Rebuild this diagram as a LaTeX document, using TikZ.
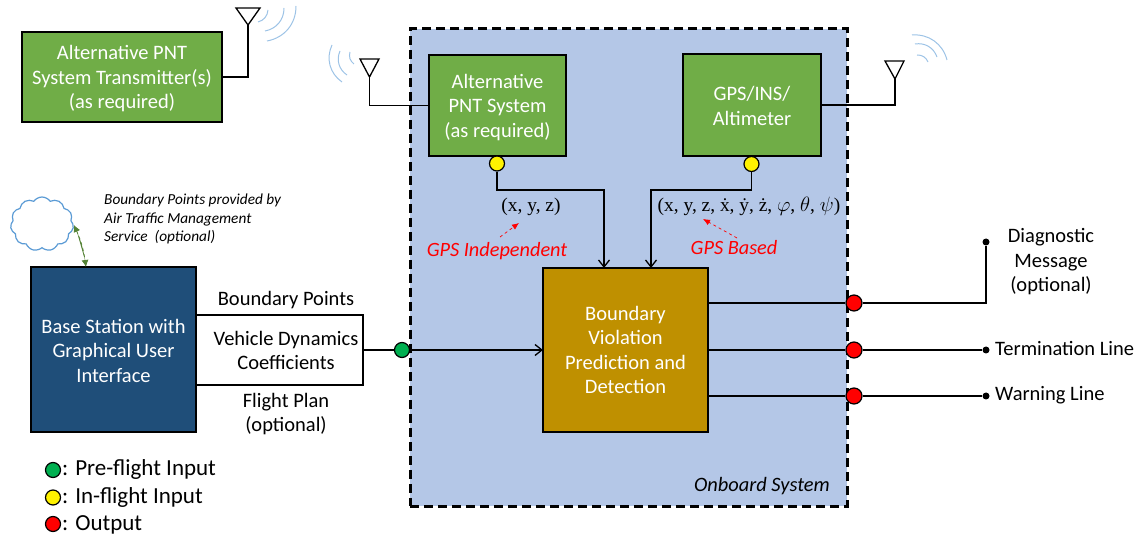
\documentclass[tikz,border=0pt]{standalone}
\usepackage{fontspec}
\setmainfont{Carlito}
\newfontfamily\formelfont{Liberation Serif}
\usetikzlibrary{positioning}
\usetikzlibrary{shapes.symbols}
\usetikzlibrary{arrows.meta}
\definecolor{gruen}{HTML}{70AD47}
\definecolor{dunkelgruen}{HTML}{548235}
\definecolor{navy}{HTML}{1F4E79}
\definecolor{gold}{HTML}{BF9000}
\definecolor{onboard}{HTML}{B4C7E7}
\definecolor{welle}{HTML}{9DC3E6}
\definecolor{wolke}{HTML}{5B9BD5}
\definecolor{dotgreen}{HTML}{00B050}
\tikzset{
    lbl/.style={font=\fontsize{20.5}{24.5}\selectfont, align=center, inner sep=0pt},
    note/.style={font=\fontsize{15.3}{18.5}\selectfont\itshape, align=left, inner sep=0pt},
    redlbl/.style={font=\fontsize{20.3}{22}\selectfont\itshape, text=red, inner sep=0pt},
    formel/.style={font=\fontsize{19.4}{22}\selectfont\formelfont, inner sep=0pt},
    block/.style={draw, line width=1.5pt, inner sep=0pt, outer sep=0pt, lbl},
    wire/.style={line width=1.5pt},
    sig/.style={wire, -{Straight Barb[length=7pt, width=11pt, line width=1.3pt]}},
    wave/.style={draw=welle, line width=1pt},
    port/.style={circle, draw, line width=1.2pt, minimum size=15pt, inner sep=0pt},
    tip/.style={circle, fill, minimum size=7pt, inner sep=0pt},
    hint/.style={red, dashed, line width=0.7pt, -{Latex[length=7pt, width=6pt]}}
}
\begin{document}
\begin{tikzpicture}[x=1pt, y=-1pt]
    \useasboundingbox (0,0) rectangle (1136,537);
    %Onboard system
    \node[draw, fill=onboard, line width=3pt, dash pattern=on 9pt off 5pt, minimum width=437pt, minimum height=477pt, outer sep=0pt] at (628.5,267.5) (onboard) {};
    \node[note, font=\fontsize{20.4}{22}\selectfont\itshape, anchor=east] at (830,486) (onboardlbl) {Onboard System};
    %Transmitter
    \node[block, fill=gruen, minimum width=200pt, minimum height=90pt] at (122,77) (tx) {};
    \node[lbl, text=white] at (122,79) (txlbl) {Alternative PNT\\System Transmitter(s)\\(as required)};
    \coordinate (txant) at (248,25);
    \draw[wire] (tx.east) -| (txant);
    \draw[wire, line width=1.3pt] (236,8) -- (260,8) -- (txant) -- cycle;
    \draw[wave] (258,22) to[bend right=35] (268,10);
    \draw[wave] (265,31) to[bend right=40] (284,8);
    \draw[wave] (267,41) to[bend right=40] (296,6);
    %Alternative PNT
    \node[block, fill=gruen, minimum width=137pt, minimum height=101pt] at (497.5,105.5) (altpnt) {};
    \node[lbl, text=white] at (497.5,107.5) (altlbl) {Alternative\\PNT System\\(as required)};
    \coordinate (altant) at (369.5,77);
    \draw[wire] (altpnt.west) -| (altant);
    \draw[wire, line width=1.3pt] (360,59) -- (379,59) -- (altant) -- cycle;
    \draw[wave] (350,52) to[bend right=35] (354,64);
    \draw[wave] (340,51) to[bend right=40] (347,75);
    \draw[wave] (332,45) to[bend right=40] (342,82);
    %GPS
    \node[block, fill=gruen, minimum width=138pt, minimum height=102pt] at (752,105) (gps) {};
    \node[lbl, text=white] at (752,106) (gpslbl) {GPS/INS/\\Altimeter};
    \coordinate (gpsant) at (895,79);
    \draw[wire] (gps.east) -| (gpsant);
    \draw[wire, line width=1.3pt] (885,61) -- (904,61) -- (gpsant) -- cycle;
    \draw[wave] (917,55) to[bend left=35] (928,62);
    \draw[wave] (915,44) to[bend left=40] (937,57);
    \draw[wave] (912,35) to[bend left=40] (947,60);
    %Boundary violation block
    \node[block, fill=gold, text=white, minimum width=165pt, minimum height=164pt] at (625.5,350) (bvpd) {Boundary\\Violation\\Prediction and\\Detection};
    %Base station
    \node[block, fill=navy, minimum width=165pt, minimum height=165pt] at (113.5,349.5) (base) {};
    \node[lbl, text=white] at (113.5,350.5) (baselbl) {Base Station with\\Graphical User\\Interface};
    %Vehicle dynamics
    \node[block, minimum width=167pt, minimum height=70pt, anchor=west] at (196,350) (vehicle) {};
    \node[lbl] at (286,350.5) (vehiclelbl) {Vehicle Dynamics\\Coefficients};
    \node[lbl] at (286,300) (boundary) {Boundary Points};
    \node[lbl] at (286,414) (flight) {Flight Plan\\(optional)};
    %Cloud
    \node[cloud, cloud puffs=11, cloud puff arc=110, aspect=1.15, draw=wolke, fill=white, line width=1.2pt, minimum width=63pt, minimum height=54pt, inner sep=0pt] at (42,224) (atm) {};
    \node[note, anchor=north west] at (104,194) (atmlbl) {Boundary Points provided by\\Air Traffic Management\\Service\ \ (optional)};
    \draw[draw=dunkelgruen, fill=dunkelgruen, dashed, line width=0.8pt, {Latex[length=7pt, width=7pt]}-{Latex[length=7pt, width=7pt]}] (74,225) to[bend left=8] (86,267);
    %Ports
    \node[port, fill=yellow] at (497,163.5) (altport) {};
    \node[port, fill=yellow] at (751.5,164) (gpsport) {};
    \node[port, fill=dotgreen] at (402,350) (baseport) {};
    %Inputs
    \coordinate (inalt) at (604,268);
    \coordinate (ingps) at (651,268);
    \draw[sig] (altport.south) |- (inalt |- 0,190) -- (inalt);
    \draw[sig] (gpsport.south) |- (ingps |- 0,190) -- (ingps);
    \draw[wire] (vehicle.east) -- (baseport);
    \draw[sig] (baseport) -- (bvpd.west |- baseport);
    %Labels for inputs
    \node[formel] at (531,207) (altstate) {(x, y, z)};
    \node[formel] at (749,206) (gpsstate) {(x, y, z, \.x, \.y, \.z, $\varphi$, $\theta$, $\psi$)};
    \node[redlbl] at (497,251) (indep) {GPS Independent};
    \node[redlbl] at (734,248) (based) {GPS Based};
    \draw[hint] (500,237) -- (519,223);
    \draw[hint] (737,238) -- (703,219);
    %Outputs
    \node[port, fill=red, minimum size=16pt] at (854,303) (diagport) {};
    \node[port, fill=red, minimum size=16pt] at (854,350) (termport) {};
    \node[port, fill=red, minimum size=16pt] at (854,396) (warnport) {};
    \node[tip] at (986,242) (diagtip) {};
    \node[tip] at (986,350) (termtip) {};
    \node[tip] at (986,396) (warntip) {};
    \draw[wire] (bvpd.east |- diagport) -- (diagport) -| (diagtip);
    \draw[wire] (bvpd.east |- termport) -- (termport) -- (termtip);
    \draw[wire] (bvpd.east |- warnport) -- (warnport) -- (warntip);
    \node[lbl] at (1051,262) (diag) {Diagnostic\\Message\\(optional)};
    \node[lbl, anchor=west] at (995,348) (term) {Termination Line};
    \node[lbl, anchor=west] at (995,395) (warn) {Warning Line};
    %Legend
    \node[port, fill=dotgreen] at (53,470) (leggreen) {};
    \node[port, fill=yellow] at (53,497.5) (legyellow) {};
    \node[port, fill=red] at (53,524) (legred) {};
    \node[lbl, font=\fontsize{23}{26}\selectfont, anchor=west] at (62,469.5) (legpre) {: Pre-flight Input};
    \node[lbl, font=\fontsize{23}{26}\selectfont, anchor=west] at (62,497) (legin) {: In-flight Input};
    \node[lbl, font=\fontsize{23}{26}\selectfont, anchor=west] at (62,525) (legout) {: Output};
\end{tikzpicture}
\end{document}
